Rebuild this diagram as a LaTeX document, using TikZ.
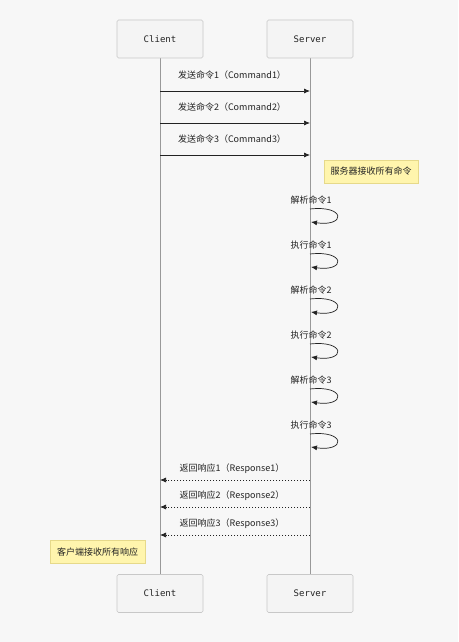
\documentclass[tikz,border=0pt]{standalone}
\usepackage{fontspec}
\setmainfont{Noto Sans CJK SC}
\newfontfamily\monofnt{DejaVu Sans Mono}
\usetikzlibrary{arrows.meta}
\definecolor{bgc}{HTML}{F7F7F7}
\definecolor{actfill}{HTML}{F4F4F4}
\definecolor{actline}{HTML}{C8C8C8}
\definecolor{lifec}{HTML}{999999}
\definecolor{notefill}{HTML}{FFF5AD}
\definecolor{noteline}{HTML}{E6D98A}
\definecolor{msgc}{HTML}{222222}
\tikzset{
  actor/.style={draw=actline, fill=actfill, line width=0.6pt, minimum width=86pt, minimum height=38pt, rounded corners=1.5pt, font=\monofnt\fontsize{9}{11}\selectfont, text=msgc, inner sep=0pt},
  lifeline/.style={draw=lifec, line width=0.8pt},
  msg/.style={draw=msgc, line width=0.7pt, -{Latex[length=6pt,width=5pt]}},
  reply/.style={msg, dash pattern=on 1.5pt off 1.5pt},
  lbl/.style={font=\fontsize{9}{11}\selectfont, text=msgc, inner sep=0pt},
  note/.style={draw=noteline, fill=notefill, font=\fontsize{9}{11}\selectfont, text=msgc, inner sep=0pt, minimum height=23pt}
}
\begin{document}
\begin{tikzpicture}[x=1pt,y=-1pt]
\fill[bgc] (0,0) rectangle (458,642);
\useasboundingbox (0,0) rectangle (458,642);
% lifelines
\coordinate (ct) at (160,58);
\coordinate (cb) at (160,575);
\coordinate (st) at (310,58);
\coordinate (sb) at (310,575);
\draw[lifeline] (ct) -- (cb);
\draw[lifeline] (st) -- (sb);
% actors
\node[actor] (c1) at (160,39) {Client};
\node[actor] (s1) at (310,39) {Server};
\node[actor] (c2) at (160,593.5) {Client};
\node[actor] (s2) at (310,593.5) {Server};
% commands
\foreach \i/\y in {1/91,2/123,3/155}{
  \coordinate (a\i) at (160,\y);
  \coordinate (b\i) at (310,\y);
  \draw[msg] (a\i) -- (b\i);
  \node[lbl] (m\i) at (232,\y-16) {发送命令\i（Command\i）};
}
\node[note, minimum width=94pt] (n1) at (371,171.5) {服务器接收所有命令};
% self loops
\foreach \k/\t/\y in {0/解析命令1/200,1/执行命令1/245,2/解析命令2/290,3/执行命令2/335,4/解析命令3/380,5/执行命令3/425}{
  \node[lbl] (sl\k) at (311,\y) {\t};
  \coordinate (p\k) at (310,\y+9);
  \coordinate (q\k) at (311,\y+22);
  \draw[msg] (p\k) .. controls (346,\y+5) and (346,\y+27) .. (q\k);
}
% responses
\foreach \i/\y in {1/480,2/507,3/535}{
  \coordinate (r\i) at (310,\y);
  \coordinate (l\i) at (160,\y);
  \draw[reply] (r\i) -- (l\i);
  \node[lbl] (rl\i) at (232,\y-11) {返回响应\i（Response\i）};
}
\node[note, minimum width=95pt] (n2) at (97.5,552) {客户端接收所有响应};
\end{tikzpicture}
\end{document}
